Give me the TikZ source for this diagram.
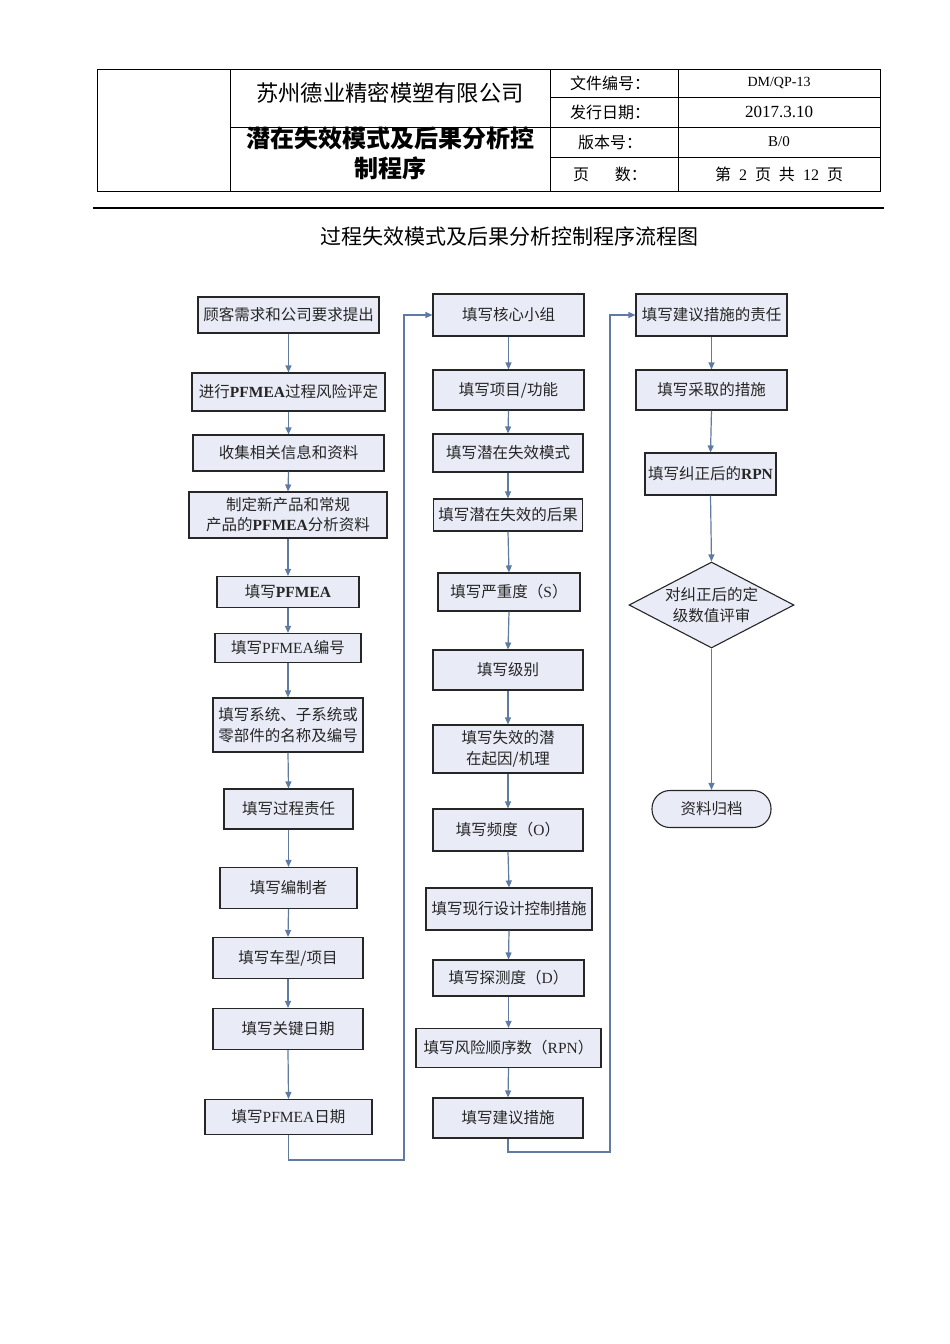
\documentclass[tikz,border=0pt]{standalone}
\usepackage{fontspec}
\setmainfont{Noto Sans CJK SC}
\newfontfamily\latinf{Liberation Serif}
\usetikzlibrary{arrows.meta,shapes.geometric,calc}
\newcommand\ltn[1]{{\latinf #1}}
\newcommand\ltb[1]{{\latinf\bfseries #1}}
\definecolor{boxfill}{RGB}{233,236,247}
\definecolor{arrcol}{RGB}{79,125,185}
\definecolor{linecol}{RGB}{96,122,160}
\tikzset{
  box/.style={draw=black!85, line width=1.1pt, fill=boxfill, inner sep=0pt, align=center,
    font=\fontsize{15.5}{21}\selectfont, text=black!85},
  arr/.style={draw=linecol, line width=1.2pt, -{Triangle[length=7pt,width=6pt,fill=arrcol]}},
  hdr/.style={line width=1pt, draw=black},
  htxt/.style={font=\fontsize{16}{18}\selectfont, inner sep=0pt},
}
\begin{document}
\begin{tikzpicture}[x=1pt,y=-1pt]
\useasboundingbox (0,0) rectangle (950,1344);
% header table
\draw[hdr] (97,69) rectangle (880,191);
\draw[hdr] (230,69) -- (230,191);
\draw[hdr] (550,69) -- (550,191);
\draw[hdr] (678,69) -- (678,191);
\draw[hdr] (230,127) -- (880,127);
\draw[hdr] (550,97) -- (880,97);
\draw[hdr] (550,157) -- (880,157);
\node[inner sep=0pt, font=\fontsize{22.3}{24}\selectfont] (company) at (390,93) {苏州德业精密模塑有限公司};
\node[inner sep=0pt, align=center, font=\fontsize{24}{30}\selectfont\bfseries] (doctitle) at (390,153) {潜在失效模式及后果分析控\\制程序};
\node[htxt] (k1) at (610,83) {文件编号：};
\node[htxt] (k2) at (610,112) {发行日期：};
\node[htxt] (k3) at (610,142) {版本号：};
\node[htxt] (k4) at (610,174) {页\hspace{1.6em}数：};
\node[htxt, font=\latinf\fontsize{14}{16}\selectfont] (v1) at (779,83) {DM/QP-13};
\node[htxt, font=\latinf\fontsize{17}{18}\selectfont] (v2) at (779,112) {2017.3.10};
\node[htxt, font=\latinf\fontsize{15}{16}\selectfont] (v3) at (779,142) {B/0};
\node[htxt] (v4) at (779,174) {第\hspace{0.5em}\ltn{2}\hspace{0.5em}页\hspace{0.5em}共\hspace{0.5em}\ltn{12}\hspace{0.5em}页};
\draw[line width=1.6pt] (93,208) -- (884,208);
\node[inner sep=0pt, font=\fontsize{21}{22}\selectfont] (ptitle) at (509,236) {过程失效模式及后果分析控制程序流程图};

% column 1
\node[box, minimum width=181, minimum height=36] (n1) at (288.5,315) {顾客需求和公司要求提出};
\node[box, minimum width=193, minimum height=38] (n2) at (288.5,392) {进行\ltb{PFMEA}过程风险评定};
\node[box, minimum width=191, minimum height=36] (n3) at (288.5,453) {收集相关信息和资料};
\node[box, minimum width=198, minimum height=46, font=\fontsize{15.5}{20}\selectfont] (n4) at (288,515) {制定新产品和常规\\产品的\ltb{PFMEA}分析资料};
\node[box, minimum width=142, minimum height=31] (n5) at (288,592) {填写\ltb{PFMEA}};
\node[box, minimum width=146, minimum height=29] (n6) at (288,648) {填写\ltn{PFMEA}编号};
\node[box, minimum width=150, minimum height=54, font=\fontsize{15.5}{21}\selectfont] (n7) at (288,725) {填写系统、子系统或\\零部件的名称及编号};
\node[box, minimum width=129, minimum height=40] (n8) at (288.5,809) {填写过程责任};
\node[box, minimum width=137, minimum height=41] (n9) at (288.5,888) {填写编制者};
\node[box, minimum width=150, minimum height=41] (n10) at (288,958) {填写车型/项目};
\node[box, minimum width=150, minimum height=41] (n11) at (288,1029) {填写关键日期};
\node[box, minimum width=167, minimum height=35] (n12) at (288.5,1117) {填写\ltn{PFMEA}日期};

% column 2
\node[box, minimum width=151, minimum height=42] (n13) at (508.5,315) {填写核心小组};
\node[box, minimum width=151, minimum height=40] (n14) at (508.5,390) {填写项目/功能};
\node[box, minimum width=150, minimum height=38] (n15) at (508,453) {填写潜在失效模式};
\node[box, minimum width=149, minimum height=32] (n16) at (508,515) {填写潜在失效的后果};
\node[box, minimum width=142, minimum height=38] (n17) at (509,592) {填写严重度（\ltn{S}）};
\node[box, minimum width=150, minimum height=40] (n18) at (508,670) {填写级别};
\node[box, minimum width=150, minimum height=48, font=\fontsize{15.5}{21}\selectfont] (n19) at (508,749) {填写失效的潜\\在起因/机理};
\node[box, minimum width=150, minimum height=42] (n20) at (508,830) {填写频度（\ltn{O}）};
\node[box, minimum width=166, minimum height=42] (n21) at (509,909) {填写现行设计控制措施};
\node[box, minimum width=151, minimum height=36] (n22) at (508.5,978) {填写探测度（\ltn{D}）};
\node[box, minimum width=185, minimum height=39] (n23) at (508.5,1048) {填写风险顺序数（\ltn{RPN}）};
\node[box, minimum width=150, minimum height=40] (n24) at (508,1118) {填写建议措施};

% column 3
\node[box, minimum width=151, minimum height=42] (n25) at (711.5,315) {填写建议措施的责任};
\node[box, minimum width=151, minimum height=40] (n26) at (711.5,390) {填写采取的措施};
\node[box, minimum width=131, minimum height=42] (n27) at (710.5,474) {填写纠正后的\ltb{RPN}};
\node[box, shape=diamond, minimum width=165, minimum height=86] (n28) at (711.5,605) {};
\node[inner sep=0pt, align=center, font=\fontsize{15.5}{21}\selectfont, text=black!85] (n28t) at (n28.center) {对纠正后的定\\级数值评审};
\node[box, minimum width=119, minimum height=37, rounded corners=18pt] (n29) at (711.5,809) {资料归档};

% connectors
\foreach \a/\b in {n1/n2,n2/n3,n3/n4,n4/n5,n5/n6,n6/n7,n7/n8,n8/n9,n9/n10,n10/n11,n11/n12,
  n13/n14,n14/n15,n15/n16,n16/n17,n17/n18,n18/n19,n19/n20,n20/n21,n21/n22,n22/n23,n23/n24,
  n25/n26,n26/n27,n27/n28,n28/n29}
  \draw[arr] (\a.south) -- (\b.north);
\coordinate (j1) at (404,1160);
\coordinate (j2) at (610,1152);
\draw[arr] (n12.south) |- (j1) |- (n13.west);
\draw[arr] (n24.south) |- (j2) |- (n25.west);
\end{tikzpicture}
\end{document}
